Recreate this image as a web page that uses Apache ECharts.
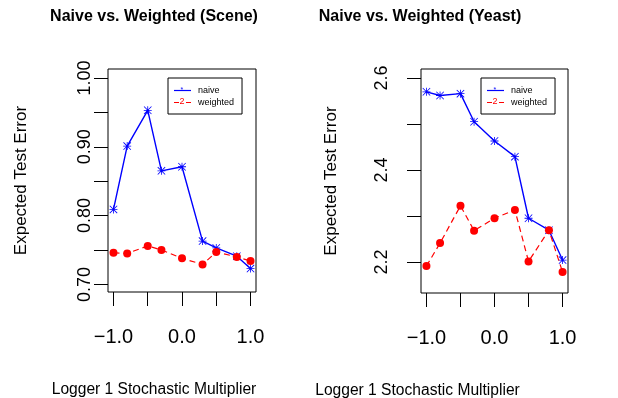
<!DOCTYPE html>
<html>
<head>
<meta charset="utf-8">
<script src="https://cdn.jsdelivr.net/npm/echarts@6/dist/echarts.min.js"></script>
<style>html,body{margin:0;padding:0;background:#fff;}#c{width:618px;height:398px;}</style>
</head>
<body>
<div id="c"></div>
<script>
// ---- data ----
const multipliers = [-1, -0.8, -0.5, -0.3, 0, 0.3, 0.5, 0.8, 1];
const sceneNaive = [0.809, 0.901, 0.953, 0.865, 0.871, 0.763, 0.753, 0.741, 0.723];
const sceneWeighted = [0.746, 0.745, 0.756, 0.750, 0.738, 0.729, 0.747, 0.740, 0.734];
const yeastNaive = [2.570, 2.562, 2.566, 2.505, 2.463, 2.429, 2.295, 2.269, 2.204];
const yeastWeighted = [2.191, 2.241, 2.322, 2.268, 2.295, 2.313, 2.201, 2.269, 2.178];
const xTicks = [-1, -0.5, 0, 0.5, 1];
const xTickLabels = [-1, 0, 1];
const sceneYTicks = [0.70, 0.75, 0.80, 0.85, 0.90, 0.95, 1.00];
const sceneYLabels = [0.70, 0.80, 0.90, 1.00];
const yeastYTicks = [2.2, 2.3, 2.4, 2.5, 2.6];
const yeastYLabels = [2.2, 2.4, 2.6];
const titles = ['Naive vs. Weighted (Scene)', 'Naive vs. Weighted (Yeast)'];
const xName = 'Logger 1 Stochastic Multiplier';
const yName = 'Expected Test Error';
const seriesNames = ['naive', 'weighted'];

const FONT = '"Liberation Sans", Arial, Helvetica, sans-serif';
const STAR = 'path://M9,0h2v20h-2z M0,9h20v2h-20z M1.4,0L20,18.6L18.6,20L0,1.4z M18.6,0L20,1.4L1.4,20L0,18.6z';
const pairs = ys => multipliers.map((x, i) => [x, ys[i]]);
const minus = s => s.replace('-', '\u2212');

function xAxisCfg(gi, shift) {
  return {
    type: 'value', gridIndex: gi, min: -1.08, max: 1.08,
    splitLine: { show: false }, axisLine: { show: false, onZero: false },
    axisTick: { show: true, length: 14, lineStyle: { color: '#000', width: 1 }, customValues: xTicks },
    axisLabel: { customValues: xTickLabels, margin: 35, color: '#000', fontSize: 20, fontFamily: FONT,
      formatter: v => minus(v.toFixed(1)) },
    name: xName, nameLocation: 'middle', nameGap: 90,
    nameTextStyle: { color: '#000', fontSize: 15.6, fontFamily: FONT, padding: [0, shift, 0, 0] }
  };
}
function yAxisCfg(gi, min, max, ticks, labels, digits, margin, gap) {
  return {
    type: 'value', gridIndex: gi, min: min, max: max,
    splitLine: { show: false }, axisLine: { show: false, onZero: false },
    axisTick: { show: true, length: 14, lineStyle: { color: '#000', width: 1 }, customValues: ticks },
    axisLabel: { customValues: labels, rotate: 90, margin: margin, color: '#000', fontSize: 18, fontFamily: FONT,
      formatter: v => v.toFixed(digits) },
    name: yName, nameLocation: 'middle', nameGap: gap,
    nameTextStyle: { color: '#000', fontSize: 17, fontFamily: FONT }
  };
}
function lineSeries(gi, naive, weighted) {
  return [
    { name: seriesNames[0], type: 'line', xAxisIndex: gi, yAxisIndex: gi, data: pairs(naive),
      symbol: STAR, symbolSize: 8, color: '#0000FF',
      lineStyle: { color: '#0000FF', width: 1.4 }, itemStyle: { color: '#0000FF' }, z: 2, animation: false },
    { name: seriesNames[1], type: 'line', xAxisIndex: gi, yAxisIndex: gi, data: pairs(weighted),
      symbol: 'circle', symbolSize: 8, color: '#FF0000',
      lineStyle: { color: '#FF0000', width: 1.2, type: [6, 4] }, itemStyle: { color: '#FF0000' }, z: 3, animation: false }
  ];
}
function legendCfg(left) {
  return {
    orient: 'vertical', left: left, top: 78, padding: [8, 8, 7, 6], itemGap: 3,
    itemWidth: 17, itemHeight: 1.2, borderColor: '#000', borderWidth: 1, borderRadius: 0,
    selectedMode: false,
    textStyle: { color: '#000', fontSize: 9, fontFamily: FONT, padding: [0, 0, 0, 2] },
    data: [
      { name: seriesNames[0], icon: 'rect' },
      { name: seriesNames[1], icon: 'path://M0,0h5v1.2h-5z M12,0h5v1.2h-5z' }
    ]
  };
}
function legendMarks(cx) {
  return [
    { type: 'text', left: cx - 3, top: 97.5, z: 100, silent: true,
      style: { text: '2', fill: '#FF0000', font: '9px ' + FONT } },
    { type: 'text', left: cx - 2, top: 86.5, z: 100, silent: true,
      style: { text: '*', fill: '#0000FF', font: '7px ' + FONT } }
  ];
}

const chart = echarts.init(document.getElementById('c'), null, { renderer: 'canvas' });
chart.setOption({
  backgroundColor: '#fff',
  animation: false,
  title: [
    { text: titles[0], left: 154, top: 9, textAlign: 'center', padding: 0,
      textStyle: { color: '#000', fontSize: 16, fontWeight: 'bold', fontFamily: FONT } },
    { text: titles[1], left: 420, top: 9, textAlign: 'center', padding: 0,
      textStyle: { color: '#000', fontSize: 16, fontWeight: 'bold', fontFamily: FONT } }
  ],
  grid: [
    { left: 108, top: 69, width: 148, height: 223, show: true, borderColor: '#000', borderWidth: 1,
      backgroundColor: 'transparent', containLabel: false, outerBoundsMode: 'none' },
    { left: 421, top: 69, width: 147, height: 224, show: true, borderColor: '#000', borderWidth: 1,
      backgroundColor: 'transparent', containLabel: false, outerBoundsMode: 'none' }
  ],
  xAxis: [xAxisCfg(0, 56), xAxisCfg(1, 154)],
  yAxis: [
    yAxisCfg(0, 0.689, 1.013, sceneYTicks, sceneYLabels, 2, 14, 78.5),
    yAxisCfg(1, 2.1324, 2.6196, yeastYTicks, yeastYLabels, 1, 30, 81)
  ],
  legend: [legendCfg(168), legendCfg(481)],
  graphic: [].concat(legendMarks(182.5), legendMarks(495.5)),
  series: [].concat(lineSeries(0, sceneNaive, sceneWeighted), lineSeries(1, yeastNaive, yeastWeighted))
});
</script>
</body>
</html>
